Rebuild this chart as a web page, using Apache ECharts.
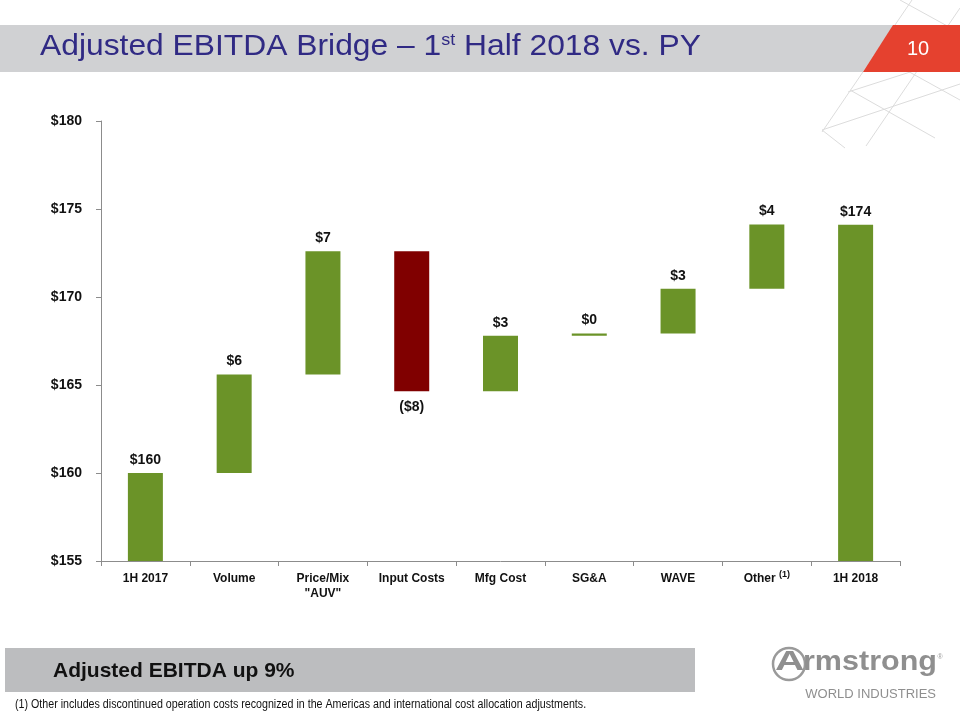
<!DOCTYPE html>
<html>
<head>
<meta charset="utf-8">
<script src="https://cdn.jsdelivr.net/npm/echarts@6/dist/echarts.min.js"></script>
<style>html,body{margin:0;padding:0;background:#fff;}#c{width:960px;height:720px;}</style>
</head>
<body>
<div id="c"></div>
<script>
// ---- data ----
const categories = ['1H 2017', 'Volume', 'Price/Mix\n"AUV"', 'Input Costs', 'Mfg Cost', 'SG&A', 'WAVE', 'Other', '1H 2018'];
const startValue = 160.0;
const deltas = [5.6, 7.0, -7.95, 3.15, 0.12, 2.55, 3.65];
const endValue = 174.1;
const valueLabels = ['$160', '$6', '$7', '($8)', '$3', '$0', '$3', '$4', '$174'];
const yTicks = [155, 160, 165, 170, 175, 180];

// ---- build waterfall pieces ----
const baseData = [0];
const sizeData = [startValue];
const isNeg = [false];
let run = startValue;
deltas.forEach(d => {
  const next = run + d;
  baseData.push(Math.min(run, next));
  sizeData.push(Math.abs(d));
  isNeg.push(d < 0);
  run = next;
});
baseData.push(0);
sizeData.push(endValue);
isNeg.push(false);

const GREEN = '#6B9328';
const RED = '#800000';
const FONT = '"Liberation Sans", Arial, sans-serif';

const chart = echarts.init(document.getElementById('c'));

// lattice decoration lines (top right)
const lattice = [
  [[912, 0], [822, 132]],
  [[960, 8], [866, 146]],
  [[822, 130], [960, 84]],
  [[848, 92], [960, 56]],
  [[872, 56], [960, 28]],
  [[850, 90], [935, 138]],
  [[875, 53], [960, 100]],
  [[900, 0], [960, 33]],
  [[822, 130], [845, 148]]
].map(p => ({
  type: 'line', silent: true, z: -1,
  shape: { x1: p[0][0], y1: p[0][1], x2: p[1][0], y2: p[1][1] },
  style: { stroke: '#dcdcdc', lineWidth: 1 }
}));

chart.setOption({
  animation: false,
  backgroundColor: '#fff',
  grid: { left: 101, right: 60, top: 121, bottom: 159, containLabel: false },
  xAxis: {
    type: 'category',
    data: categories,
    axisLine: { lineStyle: { color: '#8c8c8c', width: 1 } },
    axisTick: { show: true, length: 5, lineStyle: { color: '#8c8c8c' } },
    axisLabel: {
      interval: 0, margin: 10, color: '#111', fontFamily: FONT, fontWeight: 'bold', fontSize: 12, lineHeight: 15,
      formatter: v => v === 'Other' ? '{a|Other} {s|(1)}' : v,
      rich: {
        a: { fontFamily: FONT, fontWeight: 'bold', fontSize: 12, color: '#111' },
        s: { fontFamily: FONT, fontSize: 9, color: '#111', padding: [0, 0, 8, 0] }
      }
    }
  },
  yAxis: {
    type: 'value', min: 155, max: 180, interval: 5,
    axisLine: { show: true, lineStyle: { color: '#8c8c8c', width: 1 } },
    axisTick: { show: true, length: 5, lineStyle: { color: '#8c8c8c' } },
    splitLine: { show: false },
    axisLabel: {
      margin: 19, color: '#111', fontFamily: FONT, fontWeight: 'bold', fontSize: 14,
      formatter: v => yTicks.includes(v) ? '$' + v : ''
    }
  },
  series: [
    {
      type: 'bar', stack: 'w', barWidth: 35, clip: true,
      itemStyle: { color: 'rgba(0,0,0,0)' },
      emphasis: { disabled: true },
      data: baseData
    },
    {
      type: 'bar', stack: 'w', barWidth: 35, clip: true,
      data: sizeData.map((v, i) => ({
        value: v,
        itemStyle: { color: isNeg[i] ? RED : GREEN },
        label: {
          show: true,
          position: isNeg[i] ? 'bottom' : 'top',
          distance: isNeg[i] ? 9 : 6,
          formatter: valueLabels[i],
          color: '#111', fontFamily: FONT, fontWeight: 'bold', fontSize: 14
        }
      }))
    }
  ],
  graphic: [
    { type: 'rect', silent: true, z: -2, shape: { x: 0, y: 25, width: 900, height: 47 }, style: { fill: '#D0D1D3' } },
    ...lattice,
    { type: 'polygon', silent: true, shape: { points: [[893, 25], [960, 25], [960, 72], [863, 72]] }, style: { fill: '#E5412F' } },
    { type: 'text', silent: true, style: { text: '10', x: 918, y: 49, align: 'center', verticalAlign: 'middle', fill: '#fff', font: '20px ' + FONT } },
    {
      type: 'text', silent: true, x: 40, y: 47, scaleX: 1.06,
      style: {
        x: 0, y: 0, verticalAlign: 'middle',
        text: '{a|Adjusted EBITDA Bridge – 1}{s|st}{a| Half 2018 vs. PY}',
        rich: {
          a: { fontFamily: FONT, fontSize: 30, fill: '#302A84', lineHeight: 34 },
          s: { fontFamily: FONT, fontSize: 17, fill: '#302A84', lineHeight: 34, padding: [0, 0, 14, 0] }
        }
      }
    },
    { type: 'rect', silent: true, shape: { x: 5, y: 648, width: 690, height: 44 }, style: { fill: '#BCBDBF' } },
    { type: 'text', silent: true, style: { text: 'Adjusted EBITDA up 9%', x: 53, y: 671, verticalAlign: 'middle', fill: '#111', font: 'bold 21px ' + FONT } },
    {
      type: 'text', silent: true, x: 15, y: 705, scaleX: 0.89,
      style: { text: '(1) Other includes discontinued operation costs recognized in the Americas and international cost allocation adjustments.', x: 0, y: 0, verticalAlign: 'middle', fill: '#111', font: '12px ' + FONT }
    },
    { type: 'circle', silent: true, shape: { cx: 789, cy: 664, r: 16 }, style: { fill: 'none', stroke: '#9a9a9a', lineWidth: 2.5 } },
    { type: 'text', silent: true, x: 775, y: 662, scaleX: 1.45, style: { text: 'A', x: 0, y: 0, verticalAlign: 'middle', fill: '#8f8f8f', font: 'bold 28px ' + FONT } },
    { type: 'text', silent: true, x: 803, y: 663, scaleX: 1.13, style: { text: 'rmstrong', x: 0, y: 0, verticalAlign: 'middle', fill: '#8f8f8f', font: 'bold 27px ' + FONT } },
    { type: 'text', silent: true, style: { text: '®', x: 940, y: 657, align: 'center', verticalAlign: 'middle', fill: '#999', font: '7px ' + FONT } },
    { type: 'text', silent: true, style: { text: 'WORLD INDUSTRIES', x: 936, y: 694, align: 'right', verticalAlign: 'middle', fill: '#8f8f8f', font: '13px ' + FONT } }
  ]
});
</script>
</body>
</html>
